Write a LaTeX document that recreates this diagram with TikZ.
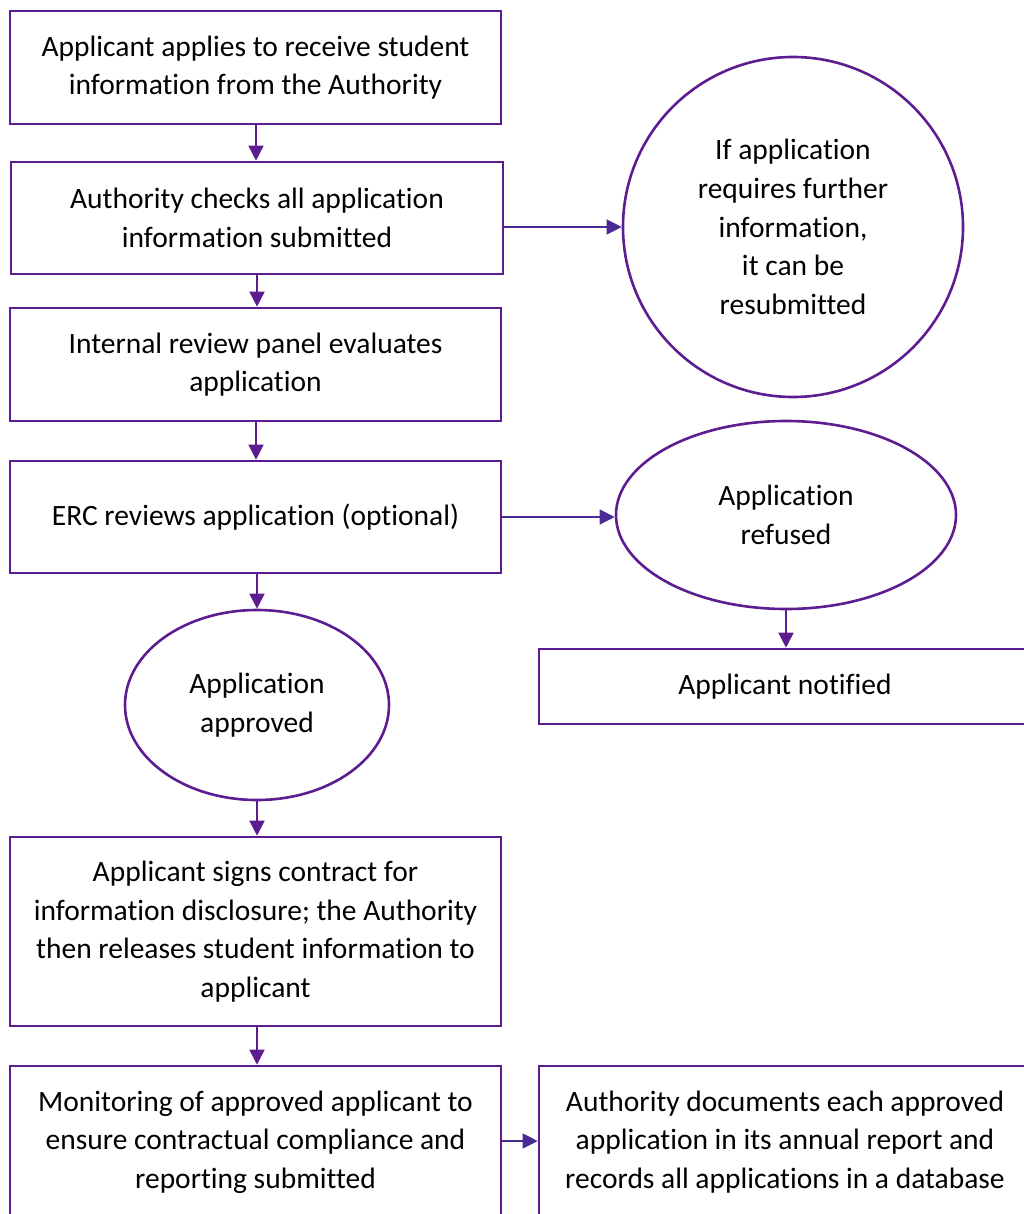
\documentclass[tikz,border=0pt]{standalone}
\usepackage{fontspec}
\setmainfont{Carlito}[RawFeature=-liga]
\usetikzlibrary{arrows.meta,shapes.geometric}
\definecolor{pline}{HTML}{5E1C91}
\definecolor{parrow}{HTML}{4B2A96}
\begin{document}
\begin{tikzpicture}[x=1pt,y=-1pt,
  every node/.style={font=\fontsize{29.5}{38.7}\selectfont, align=center, inner sep=0pt},
  box/.style={draw=pline, line width=2.6pt, rectangle, minimum width=491pt},
  circ/.style={draw=pline, line width=2.6pt, circle, minimum size=340pt},
  ell/.style={draw=pline, line width=2.6pt, ellipse},
  arr/.style={draw=pline, line width=1.6pt, -{Triangle[length=15pt,width=15pt]}},
  harr/.style={draw=parrow, line width=1.2pt, -{Triangle[length=15pt,width=15pt]}}
]
\useasboundingbox (0,0) rectangle (1024,1214);
\node[box, minimum height=113pt] (b1) at (255.5,67.5) {Applicant applies to receive student\\information from the Authority};
\node[box, minimum height=112pt, minimum width=492pt] (b2) at (257,218) {Authority checks all application\\information submitted};
\node[box, minimum height=113pt] (b3) at (255.5,364.5) {Internal review panel evaluates\\application};
\node[box, minimum height=112pt] (b4) at (255.5,517) {ERC reviews application (optional)};
\node[circ] (c1) at (793,227) {If application\\requires further\\information,\\it can be\\resubmitted};
\node[ell, minimum width=340pt, minimum height=188pt] (e1) at (786,515) {Application\\refused};
\node[box, minimum height=75pt, minimum width=492pt] (n1) at (785,686.5) {Applicant notified};
\node[ell, minimum width=264pt, minimum height=190pt] (e2) at (257,705) {Application\\approved};
\node[box, minimum height=189pt] (b5) at (255.5,931.5) {Applicant signs contract for\\information disclosure; the Authority\\then releases student information to\\applicant};
\node[box, minimum height=152pt] (b6) at (255.5,1142) {Monitoring of approved applicant to\\ensure contractual compliance and\\reporting submitted};
\node[box, minimum height=152pt, minimum width=492pt] (b7) at (785,1142) {Authority documents each approved\\application in its annual report and\\records all applications in a database};
\draw[arr] (b1.south -| 256,0) -- (b2.north -| 256,0);
\draw[arr] (b2.south -| 257,0) -- (b3.north -| 257,0);
\draw[arr] (b3.south -| 256,0) -- (b4.north -| 256,0);
\draw[arr] (b4.south -| 257,0) -- (e2.north);
\draw[arr] (e2.south) -- (b5.north -| e2.south);
\draw[arr] (b5.south -| 257,0) -- (b6.north -| 257,0);
\draw[arr] (e1.south) -- (n1.north -| e1.south);
\draw[harr] (b2.east |- 0,227) -- (c1.west);
\draw[harr] (b4.east) -- (e1.west |- 0,517);
\draw[harr] (b6.east |- 0,1141) -- (b7.west |- 0,1141);
\end{tikzpicture}
\end{document}
